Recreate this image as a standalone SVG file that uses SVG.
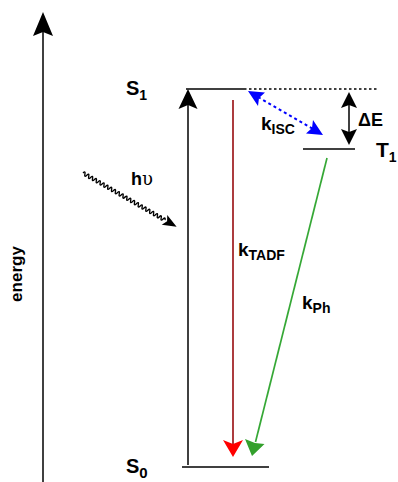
<svg xmlns="http://www.w3.org/2000/svg" width="398" height="482" viewBox="0 0 398 482">
<style>
text{font-family:"Liberation Sans",Arial,sans-serif;font-weight:bold;fill:#000}
.lvl{stroke:#000;stroke-width:1.5;fill:none}
.sub{font-size:14px}
.big{font-size:20px}
.k{font-size:19px}
</style>
<rect width="398" height="482" fill="#fff"/>
<g id="energy-axis">
<line x1="43" y1="482" x2="43" y2="30" stroke="#000" stroke-width="1.5"/>
<path d="M43,12 L53,36 L43,32 L33,36 Z" fill="#000"/>
<text transform="translate(22,274) rotate(-90)" text-anchor="middle" font-size="17">energy</text>
</g>
<g id="S1">
<line class="lvl" x1="186" y1="89" x2="244" y2="89"/>
<line x1="244" y1="89" x2="378" y2="89" stroke="#000" stroke-width="1.3" stroke-dasharray="2.5,2.5"/>
<text x="126" y="95" class="big">S<tspan class="sub" dy="5" font-size="15">1</tspan></text>
</g>
<g id="T1">
<line class="lvl" x1="303" y1="149" x2="355" y2="149"/>
<text x="376" y="157" font-size="21">T<tspan dy="5" font-size="14">1</tspan></text>
</g>
<g id="S0">
<line class="lvl" x1="182" y1="467" x2="269" y2="467"/>
<text x="126" y="473" class="big">S<tspan dy="5" font-size="15">0</tspan></text>
</g>
<g id="connectors">
<g id="absorption">
<line x1="188" y1="465" x2="188" y2="104" stroke="#000" stroke-width="1.5"/>
<path d="M188,89 L197.5,109 L188,105 L178.5,109 Z" fill="#000"/>
</g>
<g id="hv">
<g transform="translate(83,173) rotate(29.9)">
<path d="M0,0 q1.1,-3.6 2.2,0 t2.2,0 t2.2,0 t2.2,0 t2.2,0 t2.2,0 t2.2,0 t2.2,0 t2.2,0 t2.2,0 t2.2,0 t2.2,0 t2.2,0 t2.2,0 t2.2,0 t2.2,0 t2.2,0 t2.2,0 t2.2,0 t2.2,0 t2.2,0 t2.2,0 t2.2,0 t2.2,0 t2.2,0 t2.2,0 t2.2,0 t2.2,0 t2.2,0 t2.2,0 t2.2,0 t2.2,0 t2.2,0 t2.2,0 t2.2,0 t2.2,0 t2.2,0 t2.2,0 t2.2,0 t2.2,0 t2.2,0 t2.2,0 t2.2,0" fill="none" stroke="#000" stroke-width="1.4"/>
<path d="M108,0 L94,-5.5 L97,0 L94,5.5 Z" fill="#000"/>
</g>
<text x="131" y="185" font-size="18">h<tspan font-weight="normal" font-family="'DejaVu Serif',serif">υ</tspan></text>
</g>
<g id="kTADF">
<line x1="233" y1="100" x2="233" y2="444" stroke="#a3262a" stroke-width="1.8"/>
<path d="M233,457 L223,440 L233,444 L243,440 Z" fill="#ff0000"/>
<text x="238" y="256" class="k">k<tspan class="sub" dy="4">TADF</tspan></text>
</g>
<g id="kPh">
<line x1="327" y1="158" x2="255.5" y2="442" stroke="#36a836" stroke-width="1.7"/>
<path d="M252,456 L245,439 L255,443 L264.5,444 Z" fill="#33a02c"/>
<text x="302" y="309" class="k">k<tspan class="sub" dy="4">Ph</tspan></text>
</g>
<g id="kISC">
<line x1="258" y1="97" x2="313" y2="129" stroke="#0000ff" stroke-width="2" stroke-dasharray="3,3"/>
<path d="M248,91 L265,92.5 L259,98 L258,106 Z" fill="#0000ff"/>
<path d="M323,135 L306,133.5 L312,128 L313,120 Z" fill="#0000ff"/>
<text x="261" y="130" class="k">k<tspan class="sub" dy="4">ISC</tspan></text>
</g>
<g id="dE">
<line x1="349" y1="104" x2="349" y2="133" stroke="#000" stroke-width="1.5"/>
<path d="M349,92 L357,108 L349,105 L341,108 Z" fill="#000"/>
<path d="M349,145 L357,129 L349,132 L341,129 Z" fill="#000"/>
<text x="358" y="126" font-size="18" font-weight="normal">Δ<tspan font-weight="bold">E</tspan></text>
</g>
</g>
</svg>
